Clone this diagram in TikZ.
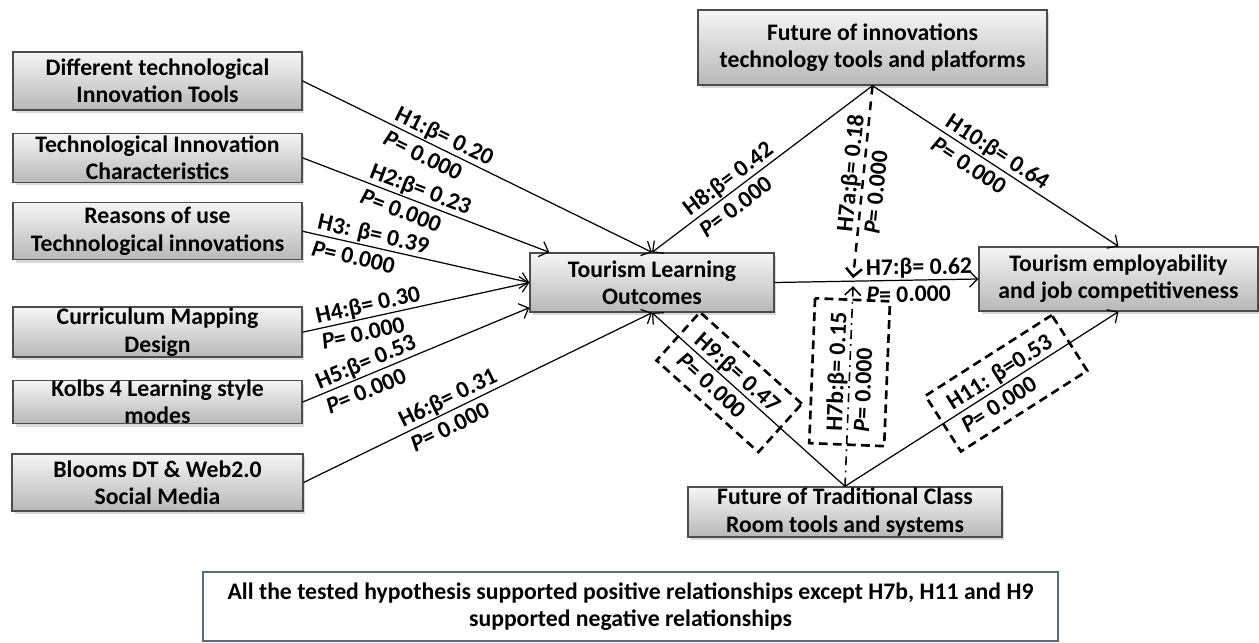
\documentclass[tikz,border=0pt]{standalone}
\usepackage{fontspec}
\setmainfont{Carlito}
\usetikzlibrary{arrows.meta, positioning, calc, shadows}
\definecolor{notefrm}{RGB}{84,106,134}

\begin{document}
\begin{tikzpicture}[
    x=0.02cm, y=-0.02cm,
    font=\fontsize{13.5}{15.5}\selectfont\bfseries,
    blk/.style={draw=black!70, line width=0.8pt, top color=black!4, bottom color=black!28,
                drop shadow={opacity=0.3, shadow xshift=0.5mm, shadow yshift=-0.6mm},
                align=center, inner sep=0pt, minimum width=5.78cm},
    lbl/.style={sloped, align=left, inner sep=1pt},
    hbox/.style={lbl, draw, line width=1.5pt, dash pattern=on 5pt off 3pt},
    arr/.style={-{Straight Barb[length=1.6mm, width=3.2mm]}, line width=0.7pt}
  ]
    \useasboundingbox (0,0) rectangle (1259,643);

    % left column of predictors
    \node[blk, minimum height=1.16cm] (dtit) at (157.5,81) {Different technological\\Innovation Tools};
    \node[blk, minimum height=0.98cm, below=0.44cm of dtit] (tic) {Technological Innovation\\Characteristics};
    \node[blk, minimum height=1.14cm, below=0.38cm of tic] (rut) {Reasons of use\\Technological innovations};
    \node[blk, minimum height=1.0cm, below=0.92cm of rut] (cmd) {Curriculum Mapping\\Design};
    \node[blk, minimum height=0.86cm, inner ysep=-3pt, below=0.44cm of cmd] (kolb) {Kolbs 4 Learning style\\modes};
    \node[blk, minimum width=5.82cm, minimum height=1.14cm, below=0.58cm of kolb] (bdt) {Blooms DT \& Web2.0\\Social Media};

    % outcomes and moderators
    \node[blk, minimum width=4.88cm, minimum height=1.18cm] (tlo) at (652,282.5) {Tourism Learning\\Outcomes};
    \node[blk, minimum width=6.98cm, minimum height=1.5cm] (fit) at (872.5,47.5) {Future of innovations\\technology tools and platforms};
    \node[blk, minimum width=5.58cm, minimum height=1.28cm] (tejc) at (1118.5,279) {Tourism employability\\and job competitiveness};
    \node[blk, minimum width=6.28cm, minimum height=1.0cm] (ftc) at (845,512) {Future of Traditional Class\\Room tools and systems};

    \node[draw=notefrm, line width=1.2pt, minimum width=17.1cm, minimum height=1.38cm, align=center] (note) at (630.5,606.5)
      {All the tested hypothesis supported positive relationships except H7b, H11 and H9\\supported negative relationships};

    \coordinate (mod) at ($(tlo.east)!0.385!(tejc.west)$);

    % hypotheses H1--H6
    \draw[arr] (dtit.east) -- node[lbl, pos=0.39] {H1:β= 0.20\\\textit{P}= 0.000} (tlo.north);
    \draw[arr] (tic.east) -- node[lbl, pos=0.46] {H2:β= 0.23\\\textit{P}= 0.000} ([xshift=0.4cm]tlo.north west);
    \draw[arr] (rut.east) -- node[lbl, pos=0.30] {H3: β= 0.39\\\textit{P}= 0.000} (tlo.west);
    \draw[arr] (cmd.east) -- node[lbl, pos=0.30] {H4:β= 0.30\\\textit{P}= 0.000} (tlo.west);
    \draw[arr] (kolb.east) -- node[lbl, pos=0.30] {H5:β= 0.53\\\textit{P}= 0.000} ([yshift=0.1cm]tlo.south west);
    \draw[arr] (bdt.east) -- node[lbl, pos=0.43] {H6:β= 0.31\\\textit{P}= 0.000} (tlo.south);

    % H7 and the moderators
    \draw[arr] (tlo.east) -- node[lbl, pos=0.71] {H7:β= 0.62\\\textit{P}= 0.000} (tejc.west);
    \draw[arr] (fit.south) -- node[lbl, pos=0.62] {H8:β= 0.42\\\textit{P}= 0.000} (tlo.north);
    \draw[arr] (fit.south) -- node[lbl, pos=0.48] {H10:β= 0.64\\\textit{P}= 0.000} (tejc.north);
    \draw[arr, line width=1.4pt, dash pattern=on 5pt off 4pt] (fit.south)
      -- node[lbl, pos=0.46] {H7a:β= 0.18\\\textit{P}= 0.000} ([yshift=0.06cm]mod);
    \draw[arr, line width=0.9pt, dash pattern=on 5pt off 3pt on 1pt off 3pt] (ftc.north)
      -- node[hbox, pos=0.57, minimum width=2.9cm, minimum height=1.5cm] {H7b:β= 0.15\\\textit{P}= 0.000} ([yshift=-0.1cm]mod);
    \draw[arr] (ftc.north) -- node[hbox, pos=0.6, minimum width=2.74cm, minimum height=1.3cm] {H9:β= 0.47\\\textit{P}= 0.000} (tlo.south);
    \draw[arr] (ftc.north) -- node[hbox, pos=0.59, minimum width=3.0cm, minimum height=1.32cm] {H11: β=0.53\\\textit{P}= 0.000} (tejc.south);
  \end{tikzpicture}
\end{document}
